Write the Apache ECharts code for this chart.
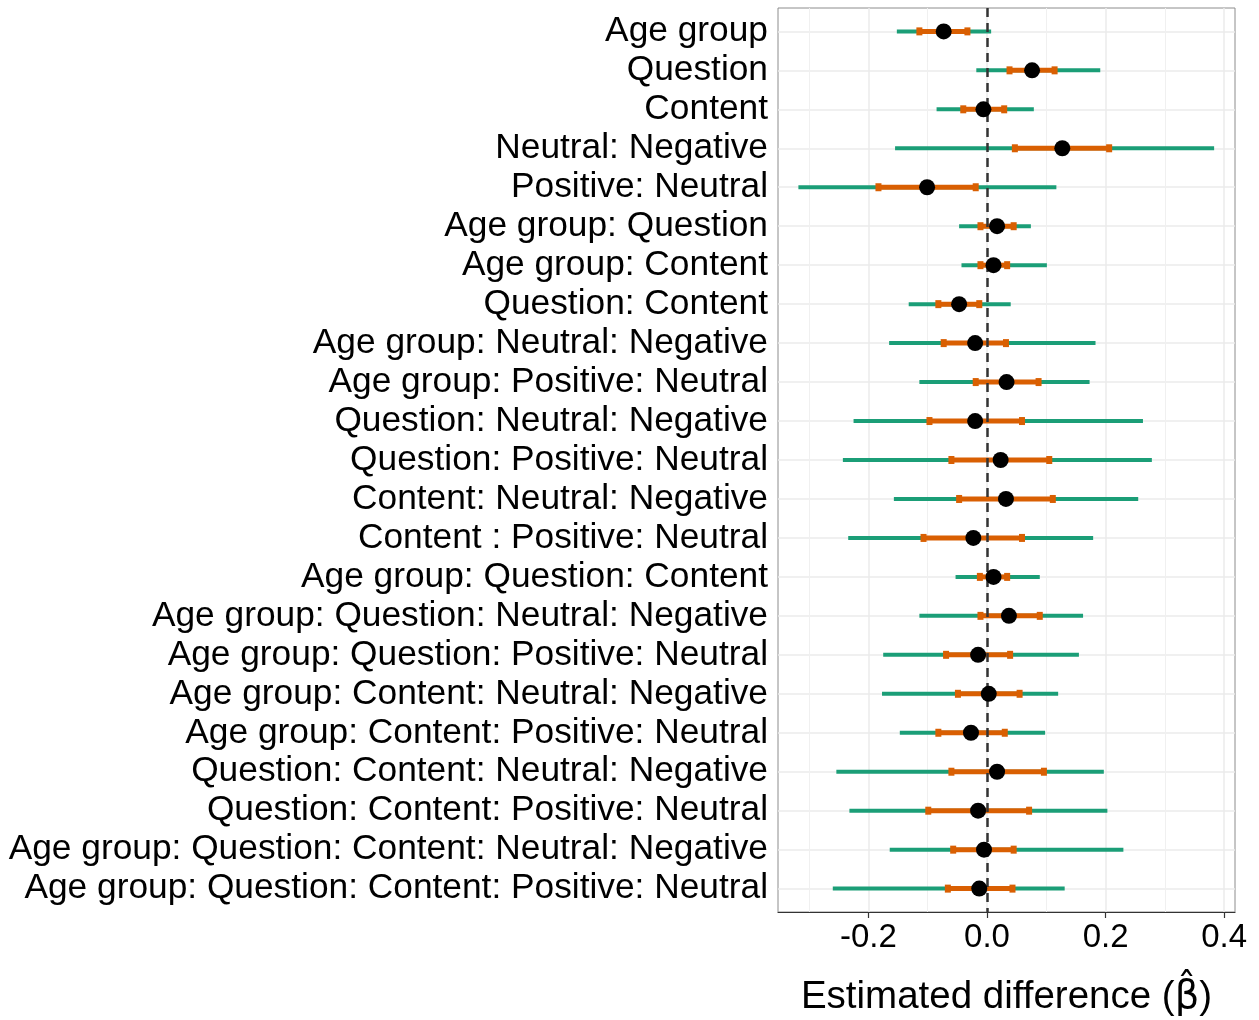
<!DOCTYPE html>
<html>
<head>
<meta charset="utf-8">
<script src="https://cdn.jsdelivr.net/npm/echarts@6/dist/echarts.min.js"></script>
<style>
  html, body { margin: 0; padding: 0; background: #fff; }
  #chart { width: 1259px; height: 1020px; }
</style>
</head>
<body>
<div id="chart"></div>
<script>
// Model terms, top to bottom
const terms = [
  'Age group',
  'Question',
  'Content',
  'Neutral: Negative',
  'Positive: Neutral',
  'Age group: Question',
  'Age group: Content',
  'Question: Content',
  'Age group: Neutral: Negative',
  'Age group: Positive: Neutral',
  'Question: Neutral: Negative',
  'Question: Positive: Neutral',
  'Content: Neutral: Negative',
  'Content : Positive: Neutral',
  'Age group: Question: Content',
  'Age group: Question: Neutral: Negative',
  'Age group: Question: Positive: Neutral',
  'Age group: Content: Neutral: Negative',
  'Age group: Content: Positive: Neutral',
  'Question: Content: Neutral: Negative',
  'Question: Content: Positive: Neutral',
  'Age group: Question: Content: Neutral: Negative',
  'Age group: Question: Content: Positive: Neutral'
];

// Point estimates
const estimate = [
  -0.073, 0.076, -0.006, 0.127, -0.101, 0.017, 0.011, -0.047,
  -0.020, 0.033, -0.020, 0.023, 0.032, -0.023, 0.011, 0.037,
  -0.015, 0.003, -0.027, 0.017, -0.015, -0.005, -0.013
];

// Wide interval (green)
const wideLo = [
  -0.152, -0.018, -0.085, -0.155, -0.318, -0.047, -0.043, -0.132,
  -0.165, -0.114, -0.225, -0.243, -0.157, -0.234, -0.053, -0.114,
  -0.175, -0.177, -0.147, -0.254, -0.232, -0.164, -0.260
];
const wideHi = [
  0.007, 0.191, 0.079, 0.383, 0.117, 0.074, 0.101, 0.040,
  0.183, 0.173, 0.263, 0.278, 0.255, 0.179, 0.089, 0.162,
  0.155, 0.120, 0.098, 0.197, 0.203, 0.230, 0.131
];

// Narrow interval (orange)
const narrowLo = [
  -0.114, 0.038, -0.040, 0.047, -0.183, -0.011, -0.011, -0.082,
  -0.073, -0.019, -0.097, -0.060, -0.047, -0.107, -0.012, -0.011,
  -0.069, -0.049, -0.082, -0.060, -0.099, -0.057, -0.066
];
const narrowHi = [
  -0.033, 0.114, 0.029, 0.206, -0.019, 0.045, 0.034, -0.013,
  0.032, 0.087, 0.059, 0.105, 0.111, 0.059, 0.034, 0.089,
  0.039, 0.055, 0.030, 0.096, 0.071, 0.045, 0.043
];

// Axis ticks
const xMajorTicks = [-0.2, 0.0, 0.2, 0.4];
const xMinorTicks = [-0.3, -0.1, 0.1, 0.3];
const rowIndex = terms.map((_, i) => i);

const GREEN = '#1b9e77';
const ORANGE = '#d95f02';
const FONT = 'Liberation Sans, Arial, Helvetica, sans-serif';

const X_MIN = -0.3524;
const X_MAX = 0.4182;

function intervalRenderer(color, width, caps) {
  return function (params, api) {
    const y = api.value(2);
    const p0 = api.coord([api.value(0), y]);
    const p1 = api.coord([api.value(1), y]);
    const children = [{
      type: 'line',
      shape: { x1: p0[0], y1: p0[1], x2: p1[0], y2: p1[1] },
      style: { stroke: color, lineWidth: width }
    }];
    if (caps) {
      [p0, p1].forEach(p => {
        children.push({
          type: 'rect',
          shape: { x: p[0] - 3, y: p[1] - 4, width: 6, height: 8 },
          style: { fill: color }
        });
      });
    }
    return { type: 'group', children };
  };
}

const chart = echarts.init(document.getElementById('chart'), null, { renderer: 'canvas' });

chart.setOption({
  animation: false,
  backgroundColor: '#ffffff',
  grid: {
    left: 778, right: 24, top: 8, bottom: 108,
    outerBoundsMode: 'none',
    containLabel: false,
    show: true, borderColor: '#8c8c8c', borderWidth: 1,
    backgroundColor: 'transparent'
  },
  xAxis: [
    {
      type: 'value',
      min: X_MIN, max: X_MAX,
      name: '{t|Estimated difference (}{g|\u03B2\u0302}{t|)}',
      nameLocation: 'middle',
      nameGap: 66,
      nameTextStyle: {
        fontSize: 38.5, color: '#000', fontFamily: FONT,
        rich: {
          t: { fontSize: 38.5, color: '#000', fontFamily: FONT },
          g: { fontSize: 38.5, color: '#000', fontFamily: 'DejaVu Sans' }
        }
      },
      axisLine: { show: true, onZero: false, lineStyle: { color: '#333', width: 1.2 } },
      axisTick: { show: true, length: 6, customValues: xMajorTicks, lineStyle: { color: '#333', width: 1.2 } },
      axisLabel: {
        customValues: xMajorTicks,
        formatter: v => v.toFixed(1),
        fontSize: 33, color: '#000', fontFamily: FONT, margin: 9
      },
      splitLine: { show: true, lineStyle: { color: '#ebebeb', width: 1.5 } }
    },
    {
      type: 'value',
      min: X_MIN, max: X_MAX,
      position: 'bottom',
      axisLine: { show: false },
      axisTick: { show: false, customValues: xMinorTicks },
      axisLabel: { show: false, customValues: xMinorTicks },
      splitLine: { show: true, lineStyle: { color: '#f0f0f0', width: 1 } }
    }
  ],
  yAxis: {
    type: 'value',
    min: -0.6, max: 22.6,
    inverse: true,
    axisLine: { show: false },
    axisTick: { show: false, customValues: rowIndex },
    axisLabel: {
      customValues: rowIndex,
      formatter: v => terms[Math.round(v)],
      fontSize: 35.3, color: '#000', fontFamily: FONT, margin: 10,
      padding: [6, 0, 0, 0]
    },
    splitLine: { show: true, lineStyle: { color: '#ebebeb', width: 1.5 } }
  },
  series: [
    {
      name: 'wide',
      type: 'custom',
      xAxisIndex: 0,
      z: 2,
      renderItem: intervalRenderer(GREEN, 4, false),
      encode: { x: [0, 1], y: 2 },
      data: rowIndex.map(i => [wideLo[i], wideHi[i], i])
    },
    {
      name: 'narrow',
      type: 'custom',
      xAxisIndex: 0,
      z: 3,
      renderItem: intervalRenderer(ORANGE, 5, true),
      encode: { x: [0, 1], y: 2 },
      data: rowIndex.map(i => [narrowLo[i], narrowHi[i], i])
    },
    {
      name: 'zero',
      type: 'line',
      xAxisIndex: 0,
      z: 4,
      data: [],
      markLine: {
        silent: true,
        symbol: 'none',
        label: { show: false },
        lineStyle: { type: [9, 6], color: '#333', width: 2.5 },
        data: [{ xAxis: 0 }]
      }
    },
    {
      name: 'estimate',
      type: 'scatter',
      xAxisIndex: 0,
      z: 5,
      symbol: 'circle',
      symbolSize: 16,
      itemStyle: { color: '#000', opacity: 1 },
      data: rowIndex.map(i => [estimate[i], i])
    }
  ]
});
</script>
</body>
</html>
